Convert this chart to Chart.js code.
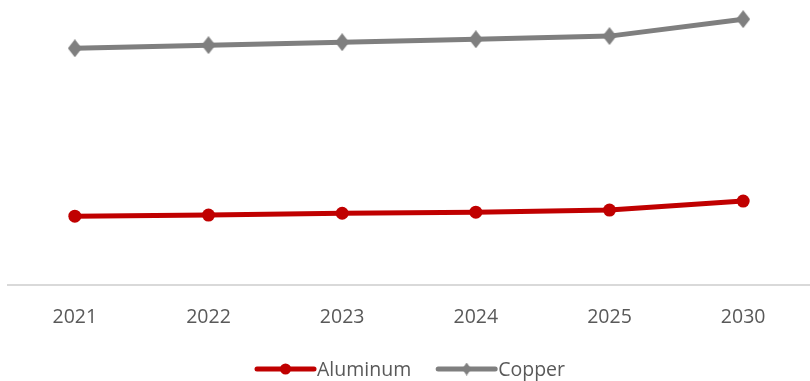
<!DOCTYPE html>
<html>
<head>
<meta charset="utf-8">
<script src="https://cdn.jsdelivr.net/npm/chart.js@4.4.0/dist/chart.umd.min.js"></script>
<style>
  html, body { margin: 0; padding: 0; background: #fff; }
  #wrap { width: 810px; height: 381px; position: relative; }
</style>
</head>
<body>
<div id="wrap"><canvas id="chart"></canvas></div>
<script>
// values (approx. US$/t)
const years = ['2021', '2022', '2023', '2024', '2025', '2030'];
const aluminum = [2600, 2640, 2710, 2750, 2830, 3170];
const copper = [8940, 9060, 9170, 9280, 9400, 10040];

const red = '#C00000';
const grey = '#7F7F7F';
const textColor = '#595959';
const fontFamily = "'Open Sans', 'Liberation Sans', sans-serif";

// narrow diamond marker like the office chart one
function makeDiamond(w, h, color) {
    const c = document.createElement('canvas');
    c.width = w; c.height = h;
    const g = c.getContext('2d');
    g.fillStyle = color;
    g.beginPath();
    g.moveTo(w / 2, 0);
    g.lineTo(w, h / 2);
    g.lineTo(w / 2, h);
    g.lineTo(0, h / 2);
    g.closePath();
    g.fill();
    return c;
}
const diamond = makeDiamond(14, 18, grey);
const smallDiamond = makeDiamond(9, 13, grey);

// legend with line + marker, drawn under the axis labels
const lineLegend = {
    id: 'lineLegend',
    afterDraw(chart) {
        const ctx = chart.ctx;
        const y = 369;
        const lineW = 57, gap = 3, between = 27;
        ctx.save();
        ctx.font = '19.5px ' + fontFamily;
        const items = chart.data.datasets.map(ds => ({
            ds: ds,
            w: lineW + gap + ctx.measureText(ds.label).width
        }));
        let total = items.reduce((s, it) => s + it.w, 0) + between * (items.length - 1);
        let x = 411 - total / 2;
        items.forEach(it => {
            const ds = it.ds;
            ctx.strokeStyle = ds.borderColor;
            ctx.lineWidth = 5;
            ctx.lineCap = 'round';
            ctx.beginPath();
            ctx.moveTo(x, y);
            ctx.lineTo(x + lineW, y);
            ctx.stroke();
            const cx = x + lineW / 2;
            if (ds.pointStyle === 'circle') {
                ctx.fillStyle = ds.borderColor;
                ctx.beginPath();
                ctx.arc(cx, y, 5.5, 0, Math.PI * 2);
                ctx.fill();
            } else {
                ctx.drawImage(smallDiamond, cx - smallDiamond.width / 2, y - smallDiamond.height / 2);
            }
            ctx.fillStyle = textColor;
            ctx.textBaseline = 'middle';
            ctx.textAlign = 'left';
            ctx.fillText(ds.label, x + lineW + gap, y + 1);
            x += it.w + between;
        });
        ctx.restore();
    }
};

const ctx = document.getElementById('chart').getContext('2d');
new Chart(ctx, {
    type: 'line',
    data: {
        labels: years,
        datasets: [
            {
                label: 'Aluminum',
                data: aluminum,
                borderColor: red,
                backgroundColor: red,
                borderWidth: 5,
                pointStyle: 'circle',
                pointRadius: 6.5,
                pointBackgroundColor: red,
                pointBorderWidth: 0,
                tension: 0
            },
            {
                label: 'Copper',
                data: copper,
                borderColor: grey,
                backgroundColor: grey,
                borderWidth: 5,
                pointStyle: diamond,
                pointRadius: 9,
                tension: 0
            }
        ]
    },
    options: {
        responsive: true,
        maintainAspectRatio: false,
        animation: false,
        layout: { autoPadding: false, padding: { top: 7, left: 8, right: -4, bottom: 51 } },
        plugins: {
            legend: { display: false },
            tooltip: { enabled: false }
        },
        scales: {
            x: {
                offset: true,
                grid: { display: false, drawTicks: false },
                border: { display: true, color: '#D9D9D9', width: 2 },
                ticks: {
                    color: textColor,
                    font: { family: fontFamily, size: 19.5 },
                    padding: 21,
                    maxRotation: 0
                },
                afterFit(scale) {
                    scale.height = 45;
                    scale.paddingLeft = 0;
                    scale.paddingRight = 0;
                }
            },
            y: {
                display: false,
                min: 0,
                max: 10500
            }
        }
    },
    plugins: [lineLegend]
});
</script>
</body>
</html>
